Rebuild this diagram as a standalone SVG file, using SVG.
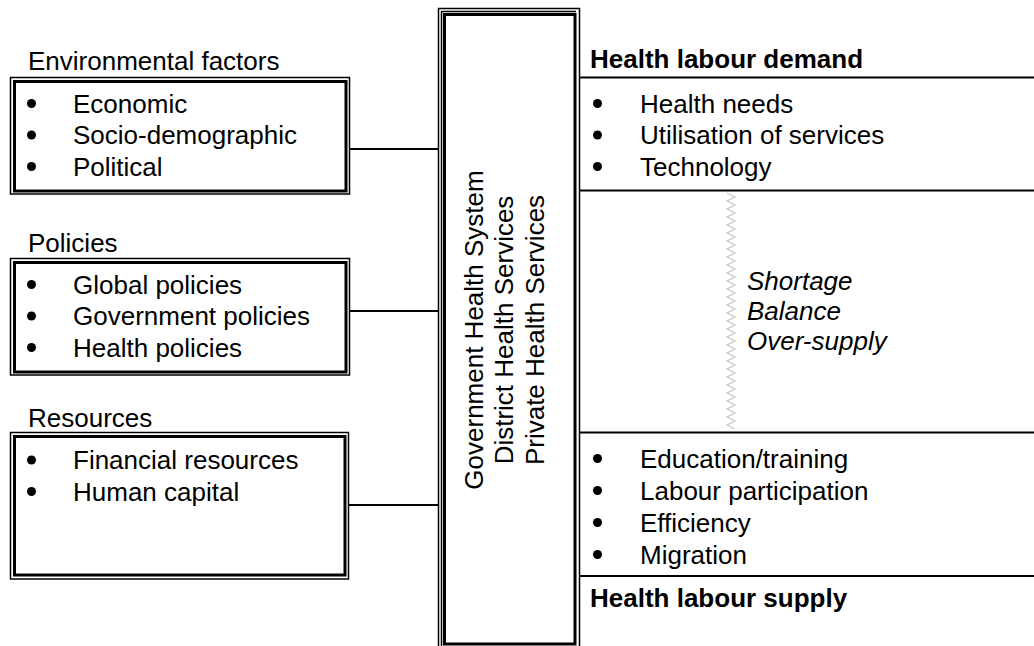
<svg xmlns="http://www.w3.org/2000/svg" width="1034" height="646" viewBox="0 0 1034 646">
<style>
text{font-family:"Liberation Sans",Arial,sans-serif;font-size:26px;fill:#000}
.b{font-weight:bold}
.i{font-style:italic}
.thin{fill:none;stroke:#000;stroke-width:1.5}
.thick{fill:none;stroke:#000;stroke-width:3}
.ln{stroke:#000;stroke-width:2;fill:none}
.dot{fill:#000}
</style>
<rect width="1034" height="646" fill="#fff"/>
<g id="connectors">
<line class="ln" x1="349" y1="149" x2="439" y2="149"/>
<line class="ln" x1="349" y1="311" x2="439" y2="311"/>
<line class="ln" x1="349" y1="505" x2="439" y2="505"/>
<line class="ln" x1="579" y1="77.5" x2="1034" y2="77.5"/>
<line class="ln" x1="579" y1="190.5" x2="1034" y2="190.5"/>
<line class="ln" x1="579" y1="432.5" x2="1034" y2="432.5"/>
<line class="ln" x1="579" y1="576" x2="1034" y2="576"/>
</g>
<g id="environmental">
<text x="28" y="70">Environmental factors</text>
<rect class="thin" x="10.5" y="77.5" width="339" height="116.5"/>
<rect class="thick" x="14.5" y="81.5" width="331.5" height="109.5"/>
<circle class="dot" cx="31.5" cy="103.5" r="4.5"/>
<circle class="dot" cx="31.5" cy="135" r="4.5"/>
<circle class="dot" cx="31.5" cy="166.5" r="4.5"/>
<text x="73" y="112.5">Economic</text>
<text x="73" y="144">Socio-demographic</text>
<text x="73" y="175.5">Political</text>
</g>
<g id="policies">
<text x="28" y="252">Policies</text>
<rect class="thin" x="10.5" y="258.5" width="339" height="116.5"/>
<rect class="thick" x="14.5" y="262.5" width="331.5" height="109.5"/>
<circle class="dot" cx="31.5" cy="284.5" r="4.5"/>
<circle class="dot" cx="31.5" cy="316" r="4.5"/>
<circle class="dot" cx="31.5" cy="347.5" r="4.5"/>
<text x="73" y="293.5">Global policies</text>
<text x="73" y="325">Government policies</text>
<text x="73" y="356.5">Health policies</text>
</g>
<g id="resources">
<text x="28" y="427">Resources</text>
<rect class="thin" x="10.5" y="432.5" width="338" height="146.5"/>
<rect class="thick" x="14.5" y="436.5" width="330.5" height="138.5"/>
<circle class="dot" cx="31.5" cy="460" r="4.5"/>
<circle class="dot" cx="31.5" cy="491.5" r="4.5"/>
<text x="73" y="469">Financial resources</text>
<text x="73" y="500.5">Human capital</text>
</g>
<g id="health-system">
<rect class="thin" x="438.5" y="8.5" width="141" height="642"/>
<polyline class="thin" points="441.5,650 441.5,11.5 576,11.5"/>
<rect class="thick" x="444.5" y="14.5" width="130.5" height="629.5"/>
<text transform="translate(483,330) rotate(-90)" text-anchor="middle">Government Health System</text>
<text transform="translate(513,330) rotate(-90)" text-anchor="middle">District Health Services</text>
<text transform="translate(544,330) rotate(-90)" text-anchor="middle">Private Health Services</text>
</g>
<g id="demand">
<text class="b" x="590" y="68">Health labour demand</text>
<circle class="dot" cx="597.5" cy="103.5" r="4.5"/>
<circle class="dot" cx="597.5" cy="135" r="4.5"/>
<circle class="dot" cx="597.5" cy="166.5" r="4.5"/>
<text x="640" y="112.5">Health needs</text>
<text x="640" y="144">Utilisation of services</text>
<text x="640" y="175.5">Technology</text>
</g>
<g id="balance">
<polyline fill="none" stroke="#c8c8c8" stroke-width="1.2" points="727,193 735,197 727,201 735,205 727,209 735,213 727,217 735,221 727,225 735,229 727,233 735,237 727,241 735,245 727,249 735,253 727,257 735,261 727,265 735,269 727,273 735,277 727,281 735,285 727,289 735,293 727,297 735,301 727,305 735,309 727,313 735,317 727,321 735,325 727,329 735,333 727,337 735,341 727,345 735,349 727,353 735,357 727,361 735,365 727,369 735,373 727,377 735,381 727,385 735,389 727,393 735,397 727,401 735,405 727,409 735,413 727,417 735,421 727,425 735,429"/>
<text class="i" x="747" y="290">Shortage</text>
<text class="i" x="747" y="320">Balance</text>
<text class="i" x="747" y="350">Over-supply</text>
</g>
<g id="supply">
<circle class="dot" cx="597.5" cy="458.5" r="4.5"/>
<circle class="dot" cx="597.5" cy="490.5" r="4.5"/>
<circle class="dot" cx="597.5" cy="522.5" r="4.5"/>
<circle class="dot" cx="597.5" cy="554.5" r="4.5"/>
<text x="640" y="467.5">Education/training</text>
<text x="640" y="499.5">Labour participation</text>
<text x="640" y="531.5">Efficiency</text>
<text x="640" y="563.5">Migration</text>
<text class="b" x="590" y="607">Health labour supply</text>
</g>
</svg>
